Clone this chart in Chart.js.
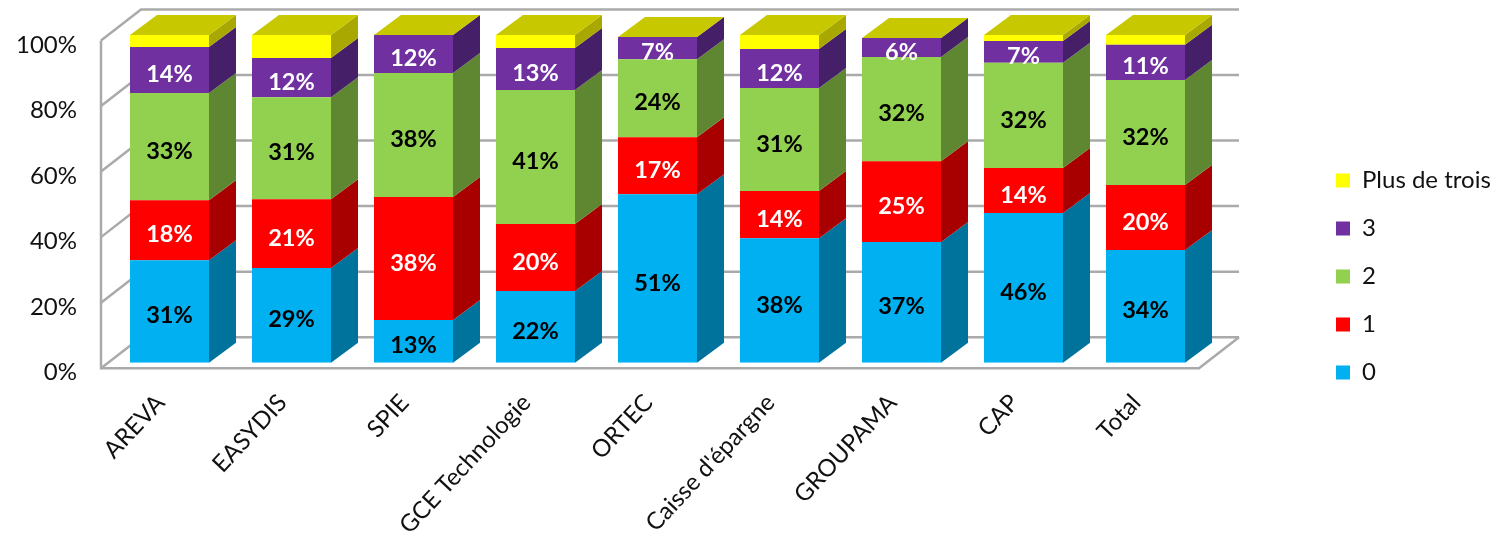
<!DOCTYPE html>
<html>
<head>
<meta charset="utf-8">
<title>Chart</title>
<script src="https://cdn.jsdelivr.net/npm/chart.js@4/dist/chart.umd.min.js"></script>
<style>
html, body { margin: 0; padding: 0; background: #fff; overflow: hidden; }
canvas { display: block; }
</style>
</head>
<body>
<canvas id="chart" width="1499" height="541"></canvas>
<script>
const categories = ['AREVA', 'EASYDIS', 'SPIE', 'GCE Technologie', 'ORTEC', "Caisse d'épargne", 'GROUPAMA', 'CAP', 'Total'];
const zero = [31.3, 28.9, 13, 21.9, 51.4, 38, 36.8, 45.7, 34.4];
const one = [18.3, 21, 37.6, 20.4, 17.4, 14.4, 24.7, 13.7, 19.8];
const two = [32.7, 31.1, 37.8, 40.9, 23.8, 31.4, 31.8, 32.1, 32.1];
const three = [14, 12, 11.6, 12.8, 6.8, 11.9, 5.8, 6.7, 10.7];
const plusTrois = [3.7, 7, 0, 4, 0, 4.3, 0, 1.8, 3];
const yTicks = [0, 20, 40, 60, 80, 100];

const FONT = 'Lato, "Open Sans", sans-serif';
const BAR_DEPTH = { x: 27, y: 20 };
const WALL_FRONT = { x: 101, y: 5.5 };
const WALL_BACK = { x: 141, y: -25.5 };
const WALL_RIGHT = 1239;
const GRID = '#aaaaaa';

function makeSet(label, data, color, side, labelColor) {
    return { label, data, backgroundColor: color, side, labelColor, borderWidth: 0 };
}

const walls3d = {
    id: 'walls3d',
    beforeDatasetsDraw(chart) {
        const ctx = chart.ctx;
        const y = chart.scales.y;
        ctx.save();
        ctx.strokeStyle = GRID;
        ctx.lineWidth = 2.5;
        yTicks.forEach(t => {
            const py = y.getPixelForValue(t);
            ctx.beginPath();
            ctx.moveTo(WALL_FRONT.x, py + WALL_FRONT.y);
            ctx.lineTo(WALL_BACK.x, py + WALL_BACK.y);
            ctx.lineTo(WALL_RIGHT, py + WALL_BACK.y);
            ctx.stroke();
        });
        // left edge and floor
        const p0 = y.getPixelForValue(0);
        const p100 = y.getPixelForValue(100);
        ctx.beginPath();
        ctx.moveTo(WALL_FRONT.x, p100 + WALL_FRONT.y);
        ctx.lineTo(WALL_FRONT.x, p0 + WALL_FRONT.y);
        ctx.lineTo(WALL_RIGHT - 40, p0 + WALL_FRONT.y);
        ctx.lineTo(WALL_RIGHT, p0 + WALL_BACK.y);
        ctx.stroke();
        ctx.restore();
    }
};

const bars3d = {
    id: 'bars3d',
    beforeDatasetsDraw(chart) {
        const ctx = chart.ctx;
        chart.data.datasets.forEach((ds, i) => {
            chart.getDatasetMeta(i).data.forEach(bar => {
                const right = bar.x + bar.width / 2;
                ctx.fillStyle = ds.side;
                ctx.beginPath();
                ctx.moveTo(right, bar.y);
                ctx.lineTo(right + BAR_DEPTH.x, bar.y - BAR_DEPTH.y);
                ctx.lineTo(right + BAR_DEPTH.x, bar.base - BAR_DEPTH.y);
                ctx.lineTo(right, bar.base);
                ctx.closePath();
                ctx.fill();
            });
        });
        // lid on top of every stack
        const last = chart.getDatasetMeta(chart.data.datasets.length - 1).data;
        last.forEach(bar => {
            const left = bar.x - bar.width / 2;
            const right = bar.x + bar.width / 2;
            ctx.fillStyle = '#c8c800';
            ctx.beginPath();
            ctx.moveTo(left, bar.y);
            ctx.lineTo(right, bar.y);
            ctx.lineTo(right + BAR_DEPTH.x, bar.y - BAR_DEPTH.y);
            ctx.lineTo(left + BAR_DEPTH.x, bar.y - BAR_DEPTH.y);
            ctx.closePath();
            ctx.fill();
        });
    }
};

const barLabels = {
    id: 'barLabels',
    afterDatasetsDraw(chart) {
        const ctx = chart.ctx;
        ctx.save();
        ctx.font = 'bold 23.5px ' + FONT;
        ctx.textAlign = 'center';
        ctx.textBaseline = 'middle';
        chart.data.datasets.forEach((ds, i) => {
            if (!ds.labelColor) return;
            ctx.fillStyle = ds.labelColor;
            chart.getDatasetMeta(i).data.forEach((bar, j) => {
                ctx.fillText(Math.round(ds.data[j]) + '%', bar.x, (bar.y + bar.base) / 2 + 4.5);
            });
        });
        ctx.restore();
    }
};

// the legend sits off to the right, away from the plot
const placeLegend = {
    id: 'placeLegend',
    afterLayout(chart) {
        const l = chart.legend;
        l.left = 1312;
        l.right = 1499;
        l.top = 144.5;
        l.bottom = 541;
    }
};

new Chart(document.getElementById('chart'), {
    type: 'bar',
    data: {
        labels: categories,
        datasets: [
            makeSet('0', zero, '#00b0f0', '#00739d', '#000000'),
            makeSet('1', one, '#ff0000', '#a80000', '#ffffff'),
            makeSet('2', two, '#92d050', '#5f8732', '#000000'),
            makeSet('3', three, '#7030a0', '#452069', '#ffffff'),
            makeSet('Plus de trois', plusTrois, '#ffff00', '#a8a800', null)
        ]
    },
    plugins: [walls3d, bars3d, barLabels, placeLegend],
    options: {
        responsive: false,
        animation: false,
        layout: { padding: { top: 35, right: 292.5, bottom: 0, left: 0 } },
        datasets: { bar: { barPercentage: 79 / 122, categoryPercentage: 1 } },
        plugins: {
            tooltip: { enabled: false },
            legend: {
                position: 'chartArea',
                align: 'start',
                reverse: true,
                labels: {
                    boxWidth: 14,
                    boxHeight: 14,
                    padding: 24,
                    color: '#111111',
                    font: { family: FONT, size: 24 }
                }
            }
        },
        scales: {
            x: {
                stacked: true,
                grid: { display: false },
                border: { display: false },
                afterFit(s) { s.height = 178.3; },
                ticks: {
                    autoSkip: false,
                    minRotation: 47,
                    maxRotation: 47,
                    padding: 18,
                    labelOffset: -9,
                    color: '#111111',
                    font: { family: FONT, size: 24 }
                }
            },
            y: {
                stacked: true,
                min: 0,
                max: 100,
                grid: { display: false, drawTicks: false },
                border: { display: false },
                afterFit(s) {
                    s.width = 108.5;
                    s.paddingTop = 0;
                    s.paddingBottom = 0;
                },
                afterBuildTicks(s) { s.ticks = yTicks.map(v => ({ value: v })); },
                ticks: {
                    padding: 31.5,
                    labelOffset: 10,
                    color: '#111111',
                    font: { family: FONT, size: 24 },
                    callback: v => v + '%'
                }
            }
        }
    }
});
</script>
</body>
</html>
